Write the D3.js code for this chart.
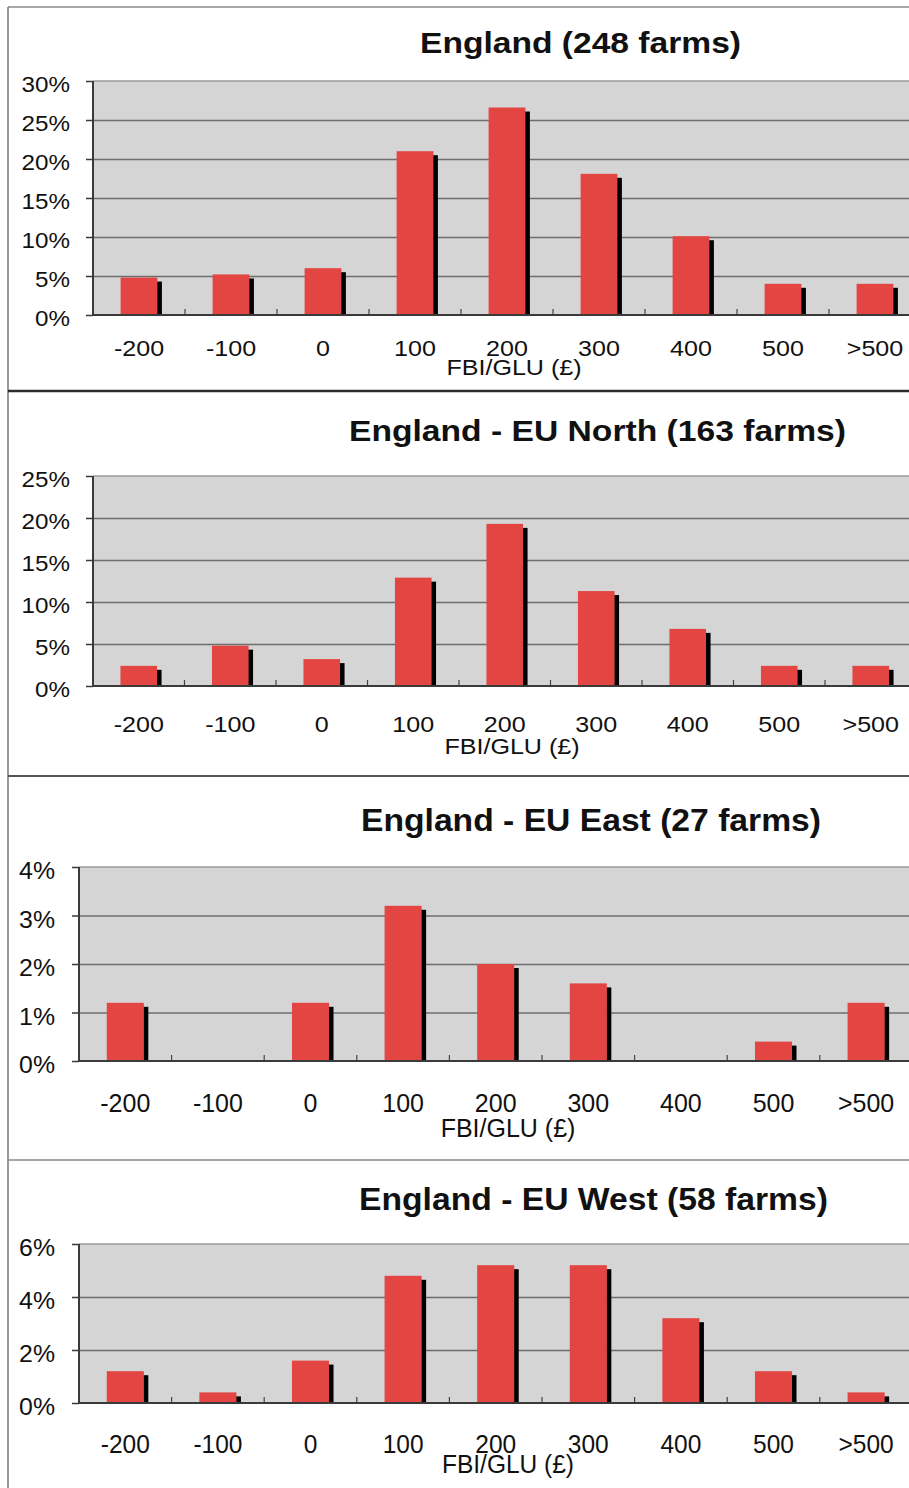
<!DOCTYPE html>
<html>
<head>
<meta charset="utf-8">
<script src="https://cdn.jsdelivr.net/npm/d3@7"></script>
<style>
  html, body { margin: 0; padding: 0; background: #fff; }
  svg { display: block; }
  text { font-family: "Liberation Sans", Arial, sans-serif; fill: #111; }
</style>
</head>
<body>
<svg id="chart" width="909" height="1488"></svg>
<script>
// FBI per GLU bands (£)
const categories = ["-200", "-100", "0", "100", "200", "300", "400", "500", ">500"];

// Share of farms in each band (%)
const englandAll = [4.8, 5.2, 6.0, 21.0, 26.6, 18.1, 10.1, 4.0, 4.0];
const euNorth    = [2.4, 4.8, 3.2, 12.9, 19.3, 11.3, 6.8, 2.4, 2.4];
const euEast     = [1.2, 0.0, 1.2, 3.2, 2.0, 1.6, 0.0, 0.4, 1.2];
const euWest     = [1.2, 0.4, 1.6, 4.8, 5.2, 5.2, 3.2, 1.2, 0.4];

const titles = [
  "England (248 farms)",
  "England - EU North (163 farms)",
  "England - EU East (27 farms)",
  "England - EU West (58 farms)"
];

// y-axis tick values for each panel
const ticksAll   = [0, 5, 10, 15, 20, 25, 30];
const ticksNorth = [0, 5, 10, 15, 20, 25];
const ticksEast  = [0, 1, 2, 3, 4];
const ticksWest  = [0, 2, 4, 6];

const xTitle = "FBI/GLU (£)";

// Panel layout
const panels = [
  { values: englandAll, ticks: ticksAll, title: titles[0],
    left: 93, top: 81, bottom: 315, step: 92,
    titleX: 580.5, titleY: 53, titleSize: 29, titleLen: 321,
    yFont: 22, ySx: 1.1, yGap: 23, yDy: 10.5,
    xFont: 22, xSx: 1.14, xLabelY: 356,
    axFont: 22, axSx: 1.14, axX: 514, axY: 375 },
  { values: euNorth, ticks: ticksNorth, title: titles[1],
    left: 93, top: 476, bottom: 686, step: 91.5,
    titleX: 597.5, titleY: 441, titleSize: 29, titleLen: 497,
    yFont: 22, ySx: 1.1, yGap: 23, yDy: 10.5,
    xFont: 22, xSx: 1.14, xLabelY: 732,
    axFont: 22, axSx: 1.14, axX: 512, axY: 754 },
  { values: euEast, ticks: ticksEast, title: titles[2],
    left: 79, top: 867, bottom: 1061, step: 92.6,
    titleX: 591, titleY: 831, titleSize: 31, titleLen: 460,
    yFont: 23, ySx: 1.08, yGap: 24, yDy: 11.5,
    xFont: 25, xSx: 1.0, xLabelY: 1112,
    axFont: 25, axSx: 1.0, axX: 508, axY: 1137 },
  { values: euWest, ticks: ticksWest, title: titles[3],
    left: 79, top: 1244, bottom: 1403, step: 92.6,
    titleX: 593.5, titleY: 1210, titleSize: 31, titleLen: 469,
    yFont: 23, ySx: 1.08, yGap: 24, yDy: 11.5,
    xFont: 25, xSx: 0.98, xLabelY: 1453,
    axFont: 25, axSx: 0.98, axX: 508, axY: 1473 }
];

const svg = d3.select("#chart");
const barColor = "#e34542";

// Outer frame and panel separators
svg.append("line").attr("x1", 8).attr("x2", 909).attr("y1", 7).attr("y2", 7)
  .attr("stroke", "#8a8a8a").attr("stroke-width", 1.5);
svg.append("line").attr("x1", 8).attr("x2", 8).attr("y1", 7).attr("y2", 1488)
  .attr("stroke", "#777").attr("stroke-width", 1.5);
[{ y: 391, c: "#2a2a2a", w: 2.5 }, { y: 776, c: "#555", w: 1.8 }, { y: 1160, c: "#888", w: 1.6 }]
  .forEach(s => {
    svg.append("line").attr("x1", 8).attr("x2", 909).attr("y1", s.y).attr("y2", s.y)
      .attr("stroke", s.c).attr("stroke-width", s.w);
  });

panels.forEach(p => {
  const width = p.step * categories.length;
  const height = p.bottom - p.top;
  const yMax = p.ticks[p.ticks.length - 1];

  const x = d3.scaleBand().domain(categories).range([0, width]).paddingInner(0).paddingOuter(0);
  const y = d3.scaleLinear().domain([0, yMax]).range([height, 0]);

  const g = svg.append("g").attr("transform", `translate(${p.left},${p.top})`);

  // plot background
  g.append("rect").attr("x", 0).attr("y", 0).attr("width", width).attr("height", height)
    .attr("fill", "#d5d5d5");

  // horizontal gridlines
  const grid = g.append("g").call(
    d3.axisLeft(y).tickValues(p.ticks.filter(t => t > 0 && t < yMax)).tickSize(-width).tickFormat("")
  );
  grid.select(".domain").remove();
  grid.selectAll(".tick line").attr("stroke", "#6e6e6e").attr("stroke-width", 1.5);

  // top border of the plot area
  g.append("line").attr("x1", 0).attr("x2", width).attr("y1", y(yMax)).attr("y2", y(yMax))
    .attr("stroke", "#9a9a9a").attr("stroke-width", 1.5);

  // bar shadows then bars
  const bw = x.bandwidth() * 0.4;
  const data = categories.map((c, i) => ({ c, v: p.values[i] })).filter(d => d.v > 0);
  const off = 4;
  g.selectAll("rect.shadow").data(data).join("rect").attr("class", "shadow")
    .attr("x", d => x(d.c) + (x.bandwidth() - bw) / 2 + bw - 0.5)
    .attr("y", d => y(d.v) + off)
    .attr("width", 5)
    .attr("height", d => Math.max(0, height - y(d.v) - off))
    .attr("fill", "#000");
  g.selectAll("rect.bar").data(data).join("rect").attr("class", "bar")
    .attr("x", d => x(d.c) + (x.bandwidth() - bw) / 2)
    .attr("y", d => y(d.v))
    .attr("width", bw)
    .attr("height", d => height - y(d.v))
    .attr("fill", barColor);

  // band boundary ticks along the baseline
  g.selectAll("line.btick").data(categories.slice(1)).join("line").attr("class", "btick")
    .attr("x1", d => x(d)).attr("x2", d => x(d))
    .attr("y1", height).attr("y2", height - 6)
    .attr("stroke", "#444").attr("stroke-width", 1.2);

  // y axis
  const yAxis = g.append("g").call(
    d3.axisLeft(y).tickValues(p.ticks).tickSize(7).tickFormat(d => d + "%")
  );
  yAxis.select(".domain").attr("stroke", "#3a3a3a").attr("stroke-width", 2)
    .attr("d", `M0,0V${height}`);
  yAxis.selectAll(".tick line").attr("stroke", "#3a3a3a").attr("stroke-width", 1.5);
  yAxis.selectAll(".tick text")
    .attr("x", -p.yGap / p.ySx).attr("dy", null).attr("y", p.yDy)
    .attr("transform", `scale(${p.ySx},1)`)
    .attr("text-anchor", "end")
    .style("font-size", p.yFont + "px").style("font-family", '"Liberation Sans", Arial, sans-serif')
    .attr("fill", "#111");

  // baseline and category labels
  const xAxis = g.append("g").attr("transform", `translate(0,${height})`).call(
    d3.axisBottom(x).tickSize(0).tickPadding(0)
  );
  xAxis.select(".domain").attr("stroke", "#3a3a3a").attr("stroke-width", 2)
    .attr("d", `M0,0H${width}`);
  xAxis.selectAll(".tick text")
    .attr("y", p.xLabelY - p.bottom).attr("dy", null)
    .attr("transform", `scale(${p.xSx},1)`)
    .style("font-size", p.xFont + "px").style("font-family", '"Liberation Sans", Arial, sans-serif')
    .attr("fill", "#111");

  // x-axis title
  svg.append("text")
    .attr("transform", `translate(${p.axX},${p.axY}) scale(${p.axSx},1)`)
    .attr("text-anchor", "middle")
    .style("font-size", p.axFont + "px")
    .text(xTitle);

  // panel title
  svg.append("text")
    .attr("x", p.titleX - p.titleLen / 2).attr("y", p.titleY)
    .attr("textLength", p.titleLen).attr("lengthAdjust", "spacingAndGlyphs")
    .style("font-size", p.titleSize + "px").style("font-weight", "bold")
    .text(p.title);
});
</script>
</body>
</html>
